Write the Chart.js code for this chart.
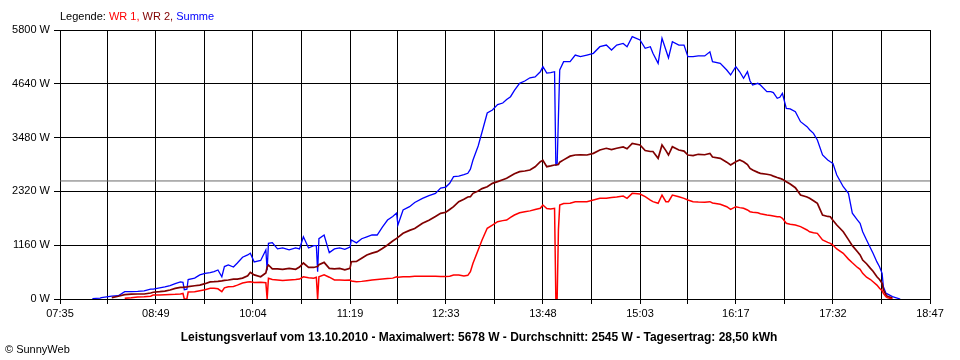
<!DOCTYPE html>
<html>
<head>
<meta charset="utf-8">
<script src="https://cdn.jsdelivr.net/npm/chart.js@4.4.1/dist/chart.umd.min.js"></script>
<style>
  body { margin: 0; background: #fff; }
  #wrap { position: relative; width: 960px; height: 360px; font-family: "Liberation Sans", Arial, sans-serif; font-size: 11px; color: #000; }
  #myChart { position: absolute; left: 0; top: 0; }
  .legend { position: absolute; left: 60px; top: 10px; line-height: 13px; }
  .footer { position: absolute; left: 0; width: 958px; top: 330px; line-height: 14px; font-size: 12px; text-align: center; font-weight: bold; }
  .copy { position: absolute; left: 5px; top: 343px; line-height: 13px; }
</style>
</head>
<body>
<div id="wrap">
  <canvas id="myChart" width="960" height="360"></canvas>
  <div class="legend">Legende: <span style="color:#ff0000">WR 1,</span> <span style="color:#800000">WR 2,</span> <span style="color:#0000ff">Summe</span></div>
  <div class="footer">Leistungsverlauf vom 13.10.2010 - Maximalwert: 5678 W - Durchschnitt: 2545 W - Tagesertrag: 28,50 kWh</div>
  <div class="copy">&copy; SunnyWeb</div>
</div>
<script>
// x axis labels (every second gridline carries one)
const xLabels = ["07:35", "08:49", "10:04", "11:19", "12:33", "13:48", "15:03", "16:17", "17:32", "18:47"];
const yTicks = [0, 1160, 2320, 3480, 4640, 5800];
const average = 2545;

const times = [
  "08:00", "08:06", "08:07", "08:15", "08:20", "08:25", "08:30", "08:35", "08:40", "08:45",
  "08:47", "08:52", "08:56", "09:00", "09:04", "09:08", "09:10", "09:11", "09:13", "09:14",
  "09:19", "09:23", "09:27", "09:31", "09:34", "09:37", "09:40", "09:42", "09:45", "09:49",
  "09:52", "09:56", "10:00", "10:02", "10:05", "10:10", "10:14", "10:15", "10:16", "10:19",
  "10:23", "10:27", "10:32", "10:37", "10:40", "10:43", "10:47", "10:51", "10:53", "10:54",
  "10:55", "10:59", "11:03", "11:07", "11:11", "11:15", "11:19", "11:20", "11:24", "11:28",
  "11:32", "11:36", "11:40", "11:44", "11:48", "11:52", "11:55", "11:56", "12:00", "12:05",
  "12:09", "12:15", "12:20", "12:25", "12:29", "12:33", "12:36", "12:39", "12:43", "12:47",
  "12:50", "12:52", "12:54", "12:58", "13:01", "13:05", "13:09", "13:13", "13:17", "13:20",
  "13:23", "13:26", "13:30", "13:34", "13:38", "13:42", "13:46", "13:48", "13:51", "13:54",
  "13:57", "13:58", "13:59", "14:00", "14:01", "14:04", "14:09", "14:13", "14:17", "14:22",
  "14:27", "14:32", "14:37", "14:41", "14:45", "14:50", "14:53", "14:57", "15:03", "15:07",
  "15:11", "15:13", "15:17", "15:20", "15:23", "15:25", "15:28", "15:33", "15:37", "15:40",
  "15:44", "15:48", "15:53", "15:57", "15:59", "16:05", "16:10", "16:13", "16:17", "16:20",
  "16:23", "16:26", "16:28", "16:30", "16:34", "16:36", "16:41", "16:44", "16:46", "16:49",
  "16:51", "16:53", "16:56", "16:59", "17:03", "17:07", "17:12", "17:14", "17:17", "17:20",
  "17:24", "17:28", "17:30", "17:32", "17:35", "17:40", "17:44", "17:47", "17:51", "17:53",
  "17:55", "17:58", "18:01", "18:03", "18:06", "18:08", "18:10", "18:11", "18:13", "18:14",
  "18:18", "18:24"
];

const wr1 = [
  null, null, null, null, null, 15, 25, 45, 50, 60,
  86, 86, 90, 95, 100, 110, 120, 0, 0, 150,
  157, 180, 200, 230, 230, 220, 157, 240, 265, 270,
  300, 345, 365, 373, 355, 360, 350, 0, 446, 420,
  410, 400, 410, 420, 430, 480, 460, 450, 470, 0,
  480, 520, 470, 410, 410, 405, 410, 390, 373, 380,
  395, 410, 420, 430, 440, 450, 480, 470, 480, 480,
  490, 490, 490, 490, 485, 485, 490, 517, 517, 496,
  510, 590, 770, 1056, 1272, 1524, 1595, 1666, 1690, 1703,
  1760, 1811, 1860, 1882, 1900, 1930, 1955, 2027, 1950, 1940,
  1955, 0, 0, 1500, 2027, 2060, 2063, 2098, 2098, 2098,
  2134, 2171, 2171, 2190, 2200, 2220, 2171, 2278, 2264, 2206,
  2134, 2100, 2063, 2242, 2098, 2098, 2242, 2206, 2170, 2134,
  2098, 2090, 2085, 2098, 2070, 2042, 1990, 1933, 1990, 1970,
  1955, 1920, 1882, 1870, 1860, 1840, 1810, 1800, 1790, 1774,
  1774, 1740, 1632, 1610, 1595, 1560, 1488, 1450, 1430, 1416,
  1272, 1220, 1200, 1164, 1080, 985, 860, 780, 680, 640,
  554, 470, 420, 373, 300, 230, 180, 120, 50, 30,
  0, null
];

const wr2 = [
  null, null, null, 30, 60, 95, 105, 108, 108, 130,
  145, 157, 170, 194, 230, 250, 250, 255, 260, 265,
  285, 300, 330, 370, 373, 380, 390, 400, 410, 430,
  430, 450, 500, 575, 520, 480, 560, 690, 733, 650,
  650, 640, 660, 640, 690, 776, 680, 680, 696, 700,
  740, 790, 660, 650, 660, 630, 660, 804, 810, 880,
  950, 990, 1020, 1090, 1164, 1250, 1308, 1330, 1416, 1480,
  1520, 1632, 1700, 1780, 1848, 1870, 1930, 1990, 2100, 2150,
  2200, 2206, 2278, 2330, 2380, 2420, 2494, 2530, 2570, 2602,
  2650, 2700, 2745, 2760, 2781, 2850, 2960, 2990, 2853, 2870,
  2889, 2889, 2895, 2900, 2950, 3000, 3080, 3105, 3110, 3105,
  3140, 3212, 3250, 3220, 3250, 3280, 3240, 3355, 3320, 3200,
  3180, 3180, 3033, 3320, 3200, 3105, 3283, 3212, 3190, 3105,
  3090, 3120, 3110, 3140, 3060, 3033, 2950, 2889, 2960, 2997,
  2960, 2900, 2817, 2780, 2730, 2710, 2690, 2673, 2650, 2620,
  2602, 2580, 2530, 2480, 2400, 2242, 2200, 2171, 2120, 2063,
  1811, 1780, 1774, 1700, 1595, 1451, 1280, 1150, 1020, 950,
  840, 760, 661, 600, 480, 420, 338, 200, 90, 60,
  20, null
];

const summe = [
  10, 20, 30, 60, 70, 157, 160, 165, 175, 215,
  215, 240, 260, 290, 330, 370, 360, 200, 210, 420,
  450, 520, 553, 570, 590, 625, 480, 700, 733, 690,
  776, 900, 950, 985, 800, 830, 1056, 620, 1200, 1214,
  1080, 1100, 1060, 1100, 1080, 1343, 1100, 1150, 1150, 590,
  1300, 1380, 1000, 1080, 1100, 1070, 1120, 1272, 1210, 1300,
  1340, 1380, 1380, 1550, 1703, 1780, 1854, 1595, 1920, 1990,
  2080, 2171, 2230, 2278, 2390, 2414, 2494, 2637, 2650, 2680,
  2710, 2800, 2997, 3300, 3600, 4010, 4075, 4190, 4226, 4300,
  4362, 4500, 4650, 4700, 4770, 4790, 4900, 5010, 4870, 4880,
  4900, 2890, 2900, 3930, 4937, 5117, 5117, 5260, 5225, 5260,
  5297, 5440, 5476, 5368, 5476, 5510, 5440, 5656, 5584, 5405,
  5440, 5297, 5080, 5620, 5368, 5200, 5547, 5476, 5476, 5225,
  5225, 5240, 5240, 5330, 5117, 5080, 4937, 4830, 5009, 4900,
  4758, 4900, 4700, 4614, 4650, 4614, 4470, 4470, 4450, 4327,
  4350, 4435, 4111, 4100, 4038, 3823, 3715, 3650, 3572, 3428,
  3105, 2997, 2960, 2925, 2673, 2421, 2278, 1850, 1700, 1632,
  1450, 1272, 1100, 985, 800, 696, 554, 265, 123, 110,
  50, 0
];

function toMin(s) {
  const p = s.split(":");
  return Number(p[0]) * 60 + Number(p[1]);
}
function series(values) {
  return times.map((t, i) => ({ x: toMin(t), y: values[i] }));
}

const labelMins = xLabels.map(toMin);
const xMin = labelMins[0];
const xMax = labelMins[labelMins.length - 1];
// gridline at every label and halfway between them
const xGrid = [];
labelMins.forEach((m, i) => {
  xGrid.push(m);
  if (i < labelMins.length - 1) xGrid.push((m + labelMins[i + 1]) / 2);
});

const font = { family: "'Liberation Sans', Arial, sans-serif", size: 11 };

const data = {
  datasets: [
    { label: "WR 1", data: series(wr1), borderColor: "#ff0000", borderWidth: 1.5 },
    { label: "WR 2", data: series(wr2), borderColor: "#800000", borderWidth: 1.7 },
    { label: "Summe", data: series(summe), borderColor: "#0000ff", borderWidth: 1.3 },
    { label: "Durchschnitt", data: [{ x: xMin, y: average }, { x: xMax, y: average }], borderColor: "#6a6a6a", borderWidth: 1 },
  ],
};

const config = {
  type: "line",
  data: data,
  options: {
    responsive: false,
    animation: false,
    spanGaps: false,
    layout: { padding: { top: 30, right: 30, left: 0, bottom: 0 } },
    elements: { point: { radius: 0 }, line: { tension: 0 } },
    plugins: {
      legend: { display: false },
      tooltip: { enabled: false },
    },
    scales: {
      x: {
        type: "linear",
        min: xMin,
        max: xMax,
        afterBuildTicks: (s) => { s.ticks = xGrid.map((v) => ({ value: v })); },
        afterFit: (s) => { s.height = 61; },
        grid: { color: "#000", tickColor: "#000", tickLength: 5 },
        border: { color: "#000" },
        ticks: {
          autoSkip: false,
          maxRotation: 0,
          color: "#000",
          font: font,
          padding: 3,
          callback: (v) => {
            const i = labelMins.indexOf(v);
            return i >= 0 ? xLabels[i] : "";
          },
        },
      },
      y: {
        min: 0,
        max: 5800,
        afterBuildTicks: (s) => { s.ticks = yTicks.map((v) => ({ value: v })); },
        afterFit: (s) => { s.width = 60; },
        grid: { color: "#000", tickColor: "#000", tickLength: 6 },
        border: { color: "#000" },
        ticks: { color: "#000", font: font, padding: 4, callback: (v) => v + " W" },
      },
    },
  },
};
const newChart = new Chart("myChart", config);
</script>
</body>
</html>
